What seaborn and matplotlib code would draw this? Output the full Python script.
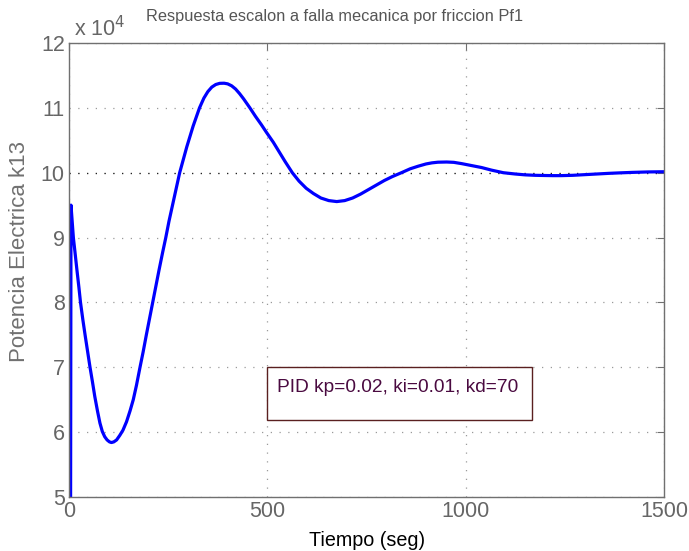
import matplotlib
matplotlib.use("Agg")
import matplotlib.pyplot as plt
import seaborn as sns
from matplotlib.patches import Rectangle

# Data (time in s, power in units of 1e4)
tiempo = [4, 5, 8, 11, 15, 20, 25, 29, 35, 41, 47, 53, 59, 65, 72, 78, 84, 90,
          96, 102, 107, 113, 120, 128, 136, 145, 154, 162, 170, 179, 187, 195,
          203, 211, 219, 227, 236, 244, 252, 261, 270, 279, 288, 297, 305, 313,
          321, 329, 340, 350, 360, 370, 380, 391, 400, 410, 420, 430, 440, 456,
          470, 485, 498, 515, 530, 545, 563, 580, 598, 616, 635, 655, 675, 695,
          715, 735, 755, 775, 795, 815, 838, 860, 880, 900, 915, 930, 952, 970,
          990, 1015, 1040, 1065, 1095, 1125, 1150, 1175, 1200, 1220, 1240,
          1270, 1300, 1330, 1360, 1390, 1420, 1460, 1500]
potencia = [4.9, 9.50, 9.25, 9.0, 8.78, 8.5, 8.23, 8.0, 7.73, 7.48, 7.24, 7.0,
            6.78, 6.55, 6.32, 6.14, 6.01, 5.93, 5.88, 5.85, 5.84, 5.85, 5.88,
            5.95, 6.03, 6.16, 6.33, 6.5, 6.72, 7.0, 7.24, 7.5, 7.75, 8.0, 8.25,
            8.5, 8.77, 9.0, 9.25, 9.5, 9.75, 10.0, 10.2, 10.4, 10.56, 10.72,
            10.86, 11.0, 11.15, 11.25, 11.32, 11.36, 11.378, 11.38, 11.37,
            11.34, 11.29, 11.22, 11.14, 11.0, 10.87, 10.74, 10.62, 10.47, 10.32,
            10.17, 10.0, 9.87, 9.76, 9.68, 9.61, 9.57, 9.555, 9.57, 9.61, 9.67,
            9.74, 9.81, 9.88, 9.94, 10.0, 10.06, 10.1, 10.135, 10.152, 10.162,
            10.165, 10.16, 10.14, 10.11, 10.08, 10.04, 10.0, 9.98, 9.967, 9.96,
            9.957, 9.955, 9.955, 9.96, 9.97, 9.98, 9.99, 9.998, 10.005, 10.012,
            10.015]
xticks = [0, 500, 1000, 1500]
yticks = [5, 6, 7, 8, 9, 10, 11, 12]
titulo = "Respuesta escalon a falla mecanica por friccion Pf1"
xlabel = "Tiempo (seg)"
ylabel = "Potencia Electrica k13"
anotacion = "PID kp=0.02, ki=0.01, kd=70"

sns.set_theme(style="white")
plt.rcParams["font.family"] = ["Liberation Sans", "DejaVu Sans"]

W, H = 689, 551
fig = plt.figure(figsize=(W / 100, H / 100), dpi=100)
ax = fig.add_axes([69 / W, 1 - 497 / H, (664 - 69) / W, (497 - 43) / H])

sns.lineplot(x=tiempo, y=potencia, ax=ax, color="#0000ff", linewidth=2.3,
             estimator=None, sort=False)

ax.set_xlim(0, 1500)
ax.set_ylim(5, 12)
ax.set_xticks(xticks)
ax.set_yticks(yticks)
ax.set_xticklabels([str(v) for v in xticks])
ax.set_yticklabels([str(v) for v in yticks])

gray = "#666666"
ax.grid(True, color="#9a9a9a", linestyle=(0, (1, 6)), linewidth=0.9)
ax.axhline(10, color="#222222", linestyle=(0, (1, 6)), linewidth=0.9, zorder=1)
for s in ax.spines.values():
    s.set_color("#707070")
    s.set_linewidth(1.0)
ax.tick_params(axis="both", direction="in", length=5, width=0.8, color="#707070",
               labelcolor=gray, labelsize=15.5, top=True, right=True, pad=3)

fig.text(335 / W, 1 - 17 / H, titulo, color="#555555", fontsize=11.8,
         ha="center", va="center")
fig.text(367 / W, 1 - 540 / H, xlabel, color="black", fontsize=14.2,
         ha="center", va="center")
fig.text(20 / W, 1 - 251 / H, ylabel, color="#707070", fontsize=16,
         ha="center", va="center", rotation=90)

fig.text(74 / W, 1 - 36 / H, r"x 10$^4$", color=gray, fontsize=15.5,
         ha="left", va="baseline")

# annotation box
bx0, by0, bx1, by1 = 267, 367, 532, 420
ax.add_patch(Rectangle(((bx0 - 69) / 595, (497 - by1) / 454), (bx1 - bx0) / 595,
                       (by1 - by0) / 454, transform=ax.transAxes, fill=True,
                       facecolor="white", edgecolor="#5a2020", linewidth=1.0,
                       zorder=5))
ax.text((277 - 69) / 595, (497 - 392) / 454, anotacion, transform=ax.transAxes,
        color="#4a0a40", fontsize=13.8, ha="left", va="baseline", zorder=6)

fig.savefig("out.png", dpi=100)
